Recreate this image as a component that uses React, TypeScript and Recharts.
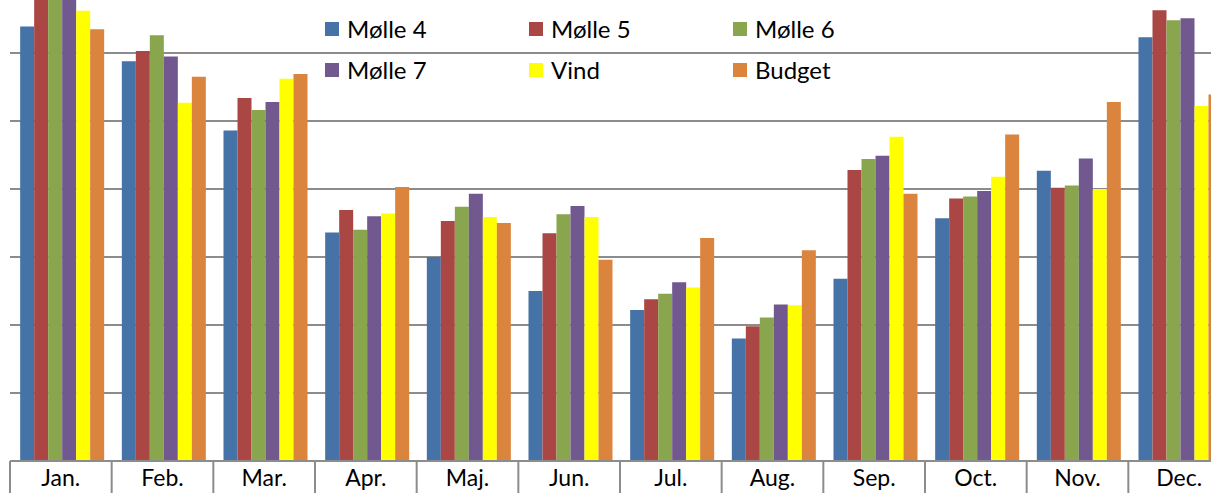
import { Bar, BarChart, CartesianGrid, Legend, XAxis, YAxis } from "recharts";

const months = ["Jan.", "Feb.", "Mar.", "Apr.", "Maj.", "Jun.", "Jul.", "Aug.", "Sep.", "Oct.", "Nov.", "Dec."];

const molle4 = [639, 588, 486, 336, 300, 250, 222, 180, 268, 357, 427, 623];
const molle5 = [700, 603, 534, 369, 353, 335, 238, 198, 428, 386, 402, 663];
const molle6 = [712, 626, 516, 340, 374, 363, 246, 211, 444, 389, 405, 648];
const molle7 = [704, 595, 528, 360, 393, 375, 263, 230, 449, 397, 445, 651];
const vind = [662, 527, 562, 364, 359, 359, 255, 229, 477, 418, 400, 522];
const budget = [635, 565, 569, 403, 350, 296, 328, 310, 393, 480, 528, 539];

const yTicks = [0, 100, 200, 300, 400, 500, 600, 700];

const SERIES = [
    { key: "m4", name: "Mølle 4", color: "#4572A7" },
    { key: "m5", name: "Mølle 5", color: "#AA4643" },
    { key: "m6", name: "Mølle 6", color: "#89A54E" },
    { key: "m7", name: "Mølle 7", color: "#71588F" },
    { key: "vind", name: "Vind", color: "#FFFF00" },
    { key: "budget", name: "Budget", color: "#DB843D" },
];

const data = months.map((m, i) => ({
    month: m,
    m4: molle4[i],
    m5: molle5[i],
    m6: molle6[i],
    m7: molle7[i],
    vind: vind[i],
    budget: budget[i],
}));

const CHART_W = 1230;
const CHART_H = 531;
const MARGIN = { top: 15, right: 0, left: 10, bottom: 0 };
const BAND = (CHART_W - MARGIN.left - MARGIN.right) / months.length;
const FONT = "Lato, 'Open Sans', sans-serif";
const AXIS_GRAY = "#8c8c8c";

// category label + boundary line on the left of each band
const MonthTick = ({ x, y, payload }: any) => (
    <g>
        <line x1={x - BAND / 2} x2={x - BAND / 2} y1={y} y2={y + 45} stroke={AXIS_GRAY} strokeWidth={2} />
        <text x={x} y={y + 25} textAnchor="middle" fontSize={23} fontFamily={FONT} fill="#000">
            {payload.value}
        </text>
    </g>
);

const GridLegend = () => (
    <div style={{ display: "grid", gridTemplateColumns: "204px 204px 204px", fontFamily: FONT, fontSize: 24 }}>
        {SERIES.map((s) => (
            <div key={s.key} style={{ display: "flex", alignItems: "center", height: 41 }}>
                <span style={{ width: 14, height: 14, background: s.color, marginRight: 8, display: "inline-block" }} />
                <span style={{ color: "#000" }}>{s.name}</span>
            </div>
        ))}
    </div>
);

export default function App() {
    return (
        <div style={{ position: "fixed", left: 0, top: 0, width: 1211, height: 493, overflow: "hidden", background: "#fff" }}>
            <div style={{ position: "absolute", left: 0, top: -30 }}>
                <BarChart width={CHART_W} height={CHART_H} data={data} margin={MARGIN} barCategoryGap="10%" barGap={0}>
                    <CartesianGrid vertical={false} stroke={AXIS_GRAY} strokeWidth={2} />
                    <YAxis hide domain={[0, 700]} ticks={yTicks} allowDataOverflow />
                    <XAxis
                        dataKey="month"
                        height={40}
                        tickLine={false}
                        tickSize={0}
                        tickMargin={0}
                        axisLine={{ stroke: AXIS_GRAY, strokeWidth: 2 }}
                        tick={<MonthTick />}
                        interval={0}
                    />
                    <Legend
                        layout="horizontal"
                        verticalAlign="middle"
                        align="center"
                        content={<GridLegend />}
                        wrapperStyle={{ position: "absolute", left: 325, top: 38, width: 620 }}
                    />
                    {SERIES.map((s) => (
                        <Bar key={s.key} dataKey={s.key} name={s.name} fill={s.color} isAnimationActive={false} />
                    ))}
                </BarChart>
            </div>
        </div>
    );
}
